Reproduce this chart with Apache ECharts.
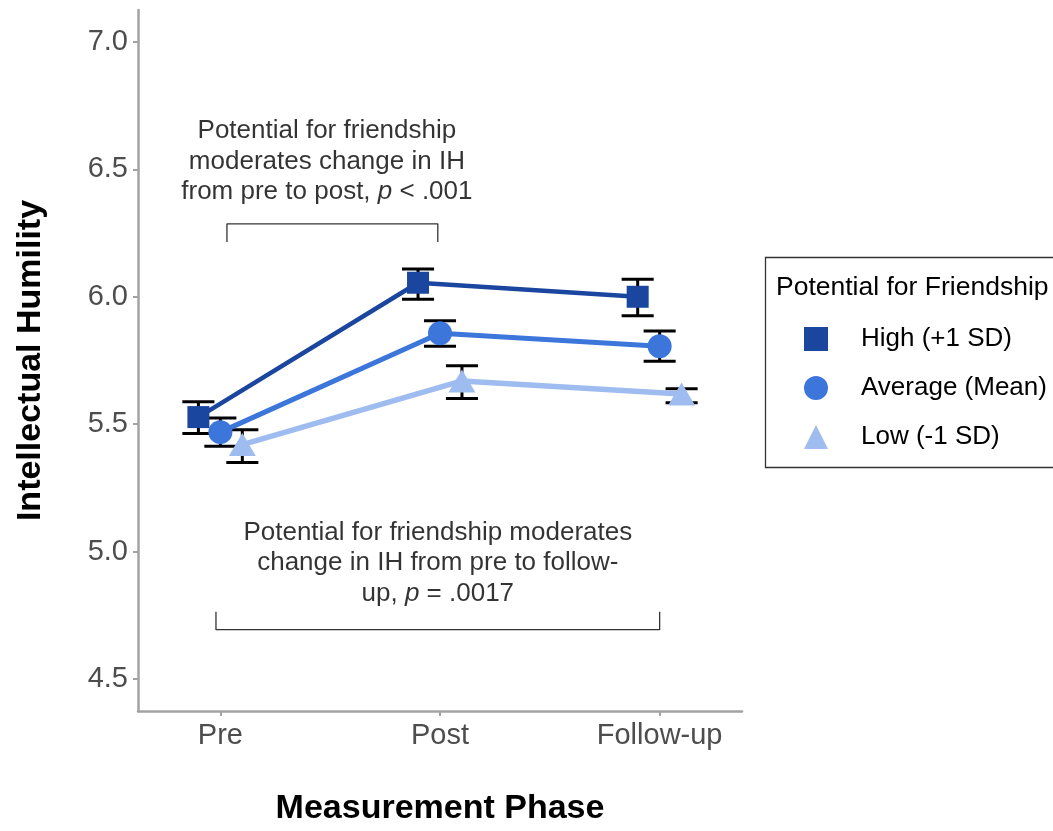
<!DOCTYPE html>
<html>
<head>
<meta charset="utf-8">
<script src="https://cdn.jsdelivr.net/npm/echarts@6/dist/echarts.min.js"></script>
<style>
html,body{margin:0;padding:0;background:#fff;}
#chart{width:1053px;height:831px;}
</style>
</head>
<body>
<div id="chart"></div>
<script>
// ---- data ----
const phases = ['Pre', 'Post', 'Follow-up'];
const groupNames = ['High (+1 SD)', 'Average (Mean)', 'Low (-1 SD)'];
const highMean = [5.528, 6.055, 6.000];
const highLow  = [5.464, 5.990, 5.926];
const highHigh = [5.588, 6.109, 6.069];
const avgMean  = [5.469, 5.857, 5.806];
const avgLow   = [5.414, 5.806, 5.747];
const avgHigh  = [5.524, 5.906, 5.866];
const lowMean  = [5.420, 5.670, 5.619];
const lowLow   = [5.350, 5.601, 5.584];
const lowHigh  = [5.478, 5.729, 5.639];
const yTicks = [4.5, 5.0, 5.5, 6.0, 6.5, 7.0];
const legendTitle = 'Potential for Friendship';
const xTitle = 'Measurement Phase';
const yTitle = 'Intellectual Humility';
// annotation brackets (data coordinates)
const bracketPrePost = [[0.03, 6.215], [0.03, 6.286], [0.99, 6.286], [0.99, 6.215]];
const bracketPreFollow = [[-0.02, 4.764], [-0.02, 4.694], [2.0, 4.694], [2.0, 4.764]];
const notePrePostAt = [0.485, 6.53];
const notePreFollowAt = [0.99, 4.955];

// ---- styling / build ----
const FONT = "'Liberation Sans', Arial, sans-serif";
const colors = ['#1b469f', '#3c76db', '#9fbcf0'];
const symbols = ['rect', 'circle', 'triangle'];
const symSizes = [22, 24, [27, 23]];
const lineWidths = [4.5, 5, 5.5];
const dodge = [-0.1, 0, 0.1];
const capHalf = 0.073;

const means = [highMean, avgMean, lowMean];
const lows = [highLow, avgLow, lowLow];
const highs = [highHigh, avgHigh, lowHigh];

const series = [];
// error bars
const ebData = [];
for (let g = 0; g < 3; g++) {
  for (let i = 0; i < phases.length; i++) {
    ebData.push([i + dodge[g], lows[g][i], highs[g][i]]);
  }
}
series.push({
  type: 'custom',
  name: 'errorbars',
  z: 1,
  silent: true,
  data: ebData,
  renderItem: function (params, api) {
    const x = api.value(0), lo = api.value(1), hi = api.value(2);
    const pLo = api.coord([x, lo]);
    const pHi = api.coord([x, hi]);
    const pL = api.coord([x - capHalf, lo]);
    const pR = api.coord([x + capHalf, lo]);
    const st = { stroke: '#000', lineWidth: 3 };
    return {
      type: 'group',
      children: [
        { type: 'line', shape: { x1: pLo[0], y1: pLo[1], x2: pHi[0], y2: pHi[1] }, style: st },
        { type: 'line', shape: { x1: pL[0], y1: pLo[1], x2: pR[0], y2: pLo[1] }, style: st },
        { type: 'line', shape: { x1: pL[0], y1: pHi[1], x2: pR[0], y2: pHi[1] }, style: st }
      ]
    };
  }
});
// lines with points (drawn Low first so High is on top)
for (let g = 2; g >= 0; g--) {
  series.push({
    type: 'line',
    name: groupNames[g],
    z: 3 + (2 - g),
    data: means[g].map((v, i) => [i + dodge[g], v]),
    symbol: symbols[g],
    symbolSize: symSizes[g],
    showAllSymbol: true,
    lineStyle: { color: colors[g], width: lineWidths[g] },
    itemStyle: { color: colors[g] },
    emphasis: { disabled: true }
  });
}
// brackets
[bracketPrePost, bracketPreFollow].forEach((b, k) => {
  series.push({
    type: 'line',
    name: 'bracket' + k,
    data: b,
    symbol: 'none',
    silent: true,
    lineStyle: { color: '#333', width: 1.3 },
    z: 2
  });
});
// annotation texts
const richText = {
  a: { fontSize: 26, fontFamily: FONT, color: '#000', lineHeight: 30.5, textBorderWidth: 0 },
  i: { fontSize: 26, fontFamily: FONT, color: '#000', fontStyle: 'italic', lineHeight: 30.5, textBorderWidth: 0 }
};
function noteSeries(name, at, fmt) {
  return {
    type: 'scatter',
    name: name,
    silent: true,
    symbolSize: 1,
    itemStyle: { color: 'rgba(0,0,0,0)' },
    data: [at],
    label: {
      show: true,
      position: 'inside',
      align: 'center',
      verticalAlign: 'middle',
      color: '#000',
      textBorderWidth: 0,
      formatter: fmt,
      rich: richText
    }
  };
}
series.push(noteSeries('note1', notePrePostAt,
  '{a|Potential for friendship}\n{a|moderates change in IH}\n{a|from pre to post, }{i|p}{a| < .001}'));
series.push(noteSeries('note2', notePreFollowAt,
  '{a|Potential for friendship moderates}\n{a|change in IH from pre to follow-}\n{a|up, }{i|p}{a| = .0017}'));

const axisGray = '#a3a3a3';
const option = {
  animation: false,
  backgroundColor: '#fff',
  textStyle: { fontFamily: FONT },
  title: {
    text: legendTitle,
    left: 771,
    top: 269,
    textStyle: { fontSize: 26.5, fontWeight: 'normal', color: '#000', fontFamily: FONT }
  },
  legend: {
    data: groupNames.map((n, g) => ({ name: n, icon: symbols[g] })),
    orient: 'vertical',
    left: 799,
    top: 321,
    itemWidth: 24,
    itemHeight: 24,
    itemGap: 23,
    selectedMode: false,
    textStyle: { fontSize: 26, color: '#000', fontFamily: FONT, padding: [0, 0, 0, 28] }
  },
  graphic: [{
    type: 'rect',
    shape: { x: 765.5, y: 257.5, width: 320, height: 210 },
    style: { fill: 'none', stroke: '#333', lineWidth: 1.3 },
    silent: true
  }],
  grid: { left: 138, right: 311, top: 10, bottom: 110 },
  xAxis: {
    type: 'value',
    min: -0.375,
    max: 2.375,
    name: xTitle,
    nameLocation: 'middle',
    nameGap: 81,
    nameTextStyle: { fontSize: 34, fontWeight: 'bold', color: '#000', fontFamily: FONT, verticalAlign: 'top' },
    axisLine: { show: true, onZero: false, lineStyle: { color: axisGray, width: 2.5 } },
    axisTick: { show: true, length: 5, customValues: [0, 1, 2], lineStyle: { color: axisGray, width: 2 } },
    axisLabel: {
      customValues: [0, 1, 2],
      formatter: v => phases[Math.round(v)],
      fontSize: 29, color: '#4d4d4d', margin: 10, fontFamily: FONT
    },
    splitLine: { show: false }
  },
  yAxis: {
    type: 'value',
    min: 4.375,
    max: 7.125,
    name: yTitle,
    nameLocation: 'middle',
    nameGap: 90,
    nameTextStyle: { fontSize: 34, fontWeight: 'bold', color: '#000', fontFamily: FONT },
    axisLine: { show: true, onZero: false, lineStyle: { color: axisGray, width: 2.5 } },
    axisTick: { show: true, length: 5, customValues: yTicks, lineStyle: { color: axisGray, width: 2 } },
    axisLabel: {
      customValues: yTicks,
      formatter: v => v.toFixed(1),
      fontSize: 29, color: '#4d4d4d', margin: 10, fontFamily: FONT
    },
    splitLine: { show: false }
  },
  series: series
};

const chart = echarts.init(document.getElementById('chart'), null, { renderer: 'canvas' });
chart.setOption(option);
</script>
</body>
</html>
